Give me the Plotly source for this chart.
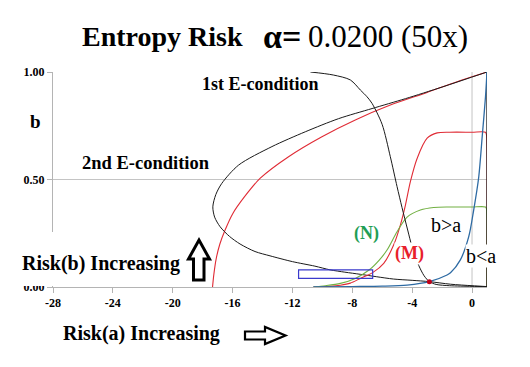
import plotly.graph_objects as go

# ---------------- data ----------------
x_ticks = [-28, -24, -20, -16, -12, -8, -4, 0]
y_ticks = [0.0, 0.5, 1.0]
y_tick_text = ["0.00", "0.50", "1.00"]

# 2nd E-condition (black loop)
loop2_x = [1.0, -2.0, -4.45, -6.68, -8.92, -11.14, -13.37, -15.6, -16.72, -17.12, -17.32,
           -17.2, -16.83, -16.2, -15.5, -14.5, -13.5, -12.0, -10.5, -9.5, -8.5, -7.46, -6.4,
           -5.24, -4.0, -2.85, -1.44, 0.0, 1.0]
loop2_y = [1.0, 0.93, 0.876, 0.83, 0.783, 0.722, 0.653, 0.567, 0.482, 0.43, 0.373,
           0.325, 0.28, 0.235, 0.2, 0.165, 0.145, 0.118, 0.097, 0.08, 0.069, 0.059, 0.048,
           0.037, 0.031, 0.025, 0.013, 0.006, 0.002]
edge_x = [1.0, 1.0]
edge_y = [0.0, 1.0]

# 2nd E-condition (red)
red2_x = [-17.34, -17.25, -17.1, -16.85, -16.5, -16.0, -15.2, -14.15, -12.26, -10.03, -7.8,
          -5.5, -3.0, -1.0, 1.0]
red2_y = [0.0, 0.06, 0.13, 0.2, 0.265, 0.34, 0.42, 0.506, 0.606, 0.699, 0.777,
          0.845, 0.905, 0.955, 1.0]

# 1st E-condition (black S-curve)
e1_x = [-10.8, -9.27, -8.13, -7.46, -7.02, -6.68, -6.01, -5.46, -5.01, -4.68, -4.3, -4.0,
        -3.56, -3.2, -2.85, -2.4, -1.5, 0.0, 1.0]
e1_y = [1.0, 0.986, 0.963, 0.916, 0.885, 0.854, 0.757, 0.606, 0.467, 0.37, 0.265, 0.185,
        0.1, 0.052, 0.025, 0.012, 0.006, 0.003, 0.002]

# (M) red curve
m_x = [-10.6, -9.5, -8.8, -8.13, -7.46, -6.64, -5.9, -5.24, -4.79, -4.45, -4.12, -3.67,
       -3.0, -2.33, -1.5, 0.0, 0.9, 0.97, 1.0, 1.0]
m_y = [0.0, 0.003, 0.008, 0.018, 0.04, 0.067, 0.11, 0.195, 0.288, 0.381, 0.49, 0.598,
       0.692, 0.717, 0.72, 0.72, 0.72, 0.705, 0.66, 0.0]

# (N) green curve
n_x = [-10.6, -9.8, -8.8, -7.8, -6.86, -6.2, -5.68, -5.01, -4.34, -3.45, -2.56, -1.5, 0.0,
       0.9, 0.97, 1.0, 1.0]
n_y = [0.0, 0.006, 0.017, 0.04, 0.08, 0.125, 0.172, 0.257, 0.325, 0.358, 0.37, 0.372, 0.372,
       0.372, 0.362, 0.33, 0.0]

# blue curve
blue_x = [-10.6, -8.0, -6.0, -4.34, -2.85, -1.67, -1.44, -0.78, -0.22, 0.11, 0.45, 0.68, 0.9, 1.0]
blue_y = [0.0, 0.002, 0.004, 0.009, 0.025, 0.056, 0.066, 0.126, 0.234, 0.358, 0.513, 0.70, 0.885, 1.0]

# equilibrium point
eq_x = [-2.85]
eq_y = [0.025]

# highlighted box
box_x = [-11.59, -6.64]
box_y = [0.04, 0.08]

# ---------------- figure ----------------
W, H = 530, 367
L, R, T, B = 53, 43, 72, 80
PW, PH = W - L - R, H - T - B


def px(xp):
    return (xp - L) / PW


def py(yp):
    return (T + PH - yp) / PH


BLACK = "#1a1a1a"
RED = "#e02b35"
GREEN = "#72b043"
BLUE = "#2d6aa3"
SERIF = "Liberation Serif, Times New Roman, serif"

fig = go.Figure()


def line(x, y, color, width=1.0):
    fig.add_trace(go.Scatter(x=x, y=y, mode="lines", line=dict(color=color, width=width,
                                                                shape="spline", smoothing=0.8),
                             cliponaxis=False, hoverinfo="skip", showlegend=False))


line(red2_x, red2_y, RED, 1.1)
line(loop2_x, loop2_y, BLACK, 1.0)
line(m_x, m_y, RED, 1.1)
line(n_x, n_y, GREEN, 1.1)
line(e1_x, e1_y, BLACK, 1.0)
fig.add_trace(go.Scatter(x=edge_x, y=edge_y, mode="lines", line=dict(color=BLACK, width=1.3),
                         cliponaxis=False, hoverinfo="skip", showlegend=False))
line(blue_x, blue_y, BLUE, 1.3)
fig.add_trace(go.Scatter(x=eq_x, y=eq_y, mode="markers",
                         marker=dict(color="#c00018", size=5),
                         cliponaxis=False, hoverinfo="skip", showlegend=False))

shapes = []
# vertical gridline at x = 0
shapes.append(dict(type="line", xref="x", yref="y", x0=0, x1=0, y0=0, y1=1,
                   line=dict(color="#c4c4c4", width=1), layer="below"))
# blue box
shapes.append(dict(type="rect", xref="x", yref="y", x0=box_x[0], x1=box_x[1],
                   y0=box_y[0], y1=box_y[1], line=dict(color="#3a3acc", width=1.2),
                   fillcolor="rgba(0,0,0,0)"))
# white background behind "Risk(b) Increasing"
shapes.append(dict(type="rect", xref="paper", yref="paper", x0=px(14), x1=px(211),
                   y0=py(286), y1=py(232), line=dict(width=0), fillcolor="white",
                   layer="above"))


def path(points):
    s = "M " + " L ".join(f"{px(a):.5f},{py(b):.5f}" for a, b in points) + " Z"
    return s


# hollow up arrow
up_arrow = [(193.5, 280), (193.5, 259), (188.5, 259), (199, 240), (209.5, 259),
            (204, 259), (204, 280)]
shapes.append(dict(type="path", xref="paper", yref="paper", path=path(up_arrow),
                   line=dict(color="black", width=3), fillcolor="white", layer="above"))
# hollow right arrow
right_arrow = [(245, 331.5), (265, 331.5), (265, 327), (285.5, 335.5), (265, 344),
               (265, 339.5), (245, 339.5)]
shapes.append(dict(type="path", xref="paper", yref="paper", path=path(right_arrow),
                   line=dict(color="black", width=2.2), fillcolor="white", layer="above"))

annotations = []


def text(t, xp, yp, size, color="black", xanchor="center", bg=None, family=SERIF):
    a = dict(text=t, xref="paper", yref="paper", x=px(xp), y=py(yp), xanchor=xanchor,
             yanchor="middle", showarrow=False, font=dict(family=family, size=size, color=color),
             borderpad=0)
    if bg:
        a["bgcolor"] = bg
    annotations.append(a)


text("<b>Entropy Risk</b>", 81, 37, 28, xanchor="left")
text("<b>α=</b>", 262, 37, 34, xanchor="left")
text("0.0200 (50x)", 307, 37, 31, xanchor="left")
text("<b>1st E-condition</b>", 201, 84, 18, xanchor="left")
text("<b>b</b>", 35, 121, 19)
text("<b>2nd E-condition</b>", 81, 163, 18.5, xanchor="left")
text("<b>Risk(b) Increasing</b>", 21, 263, 20, xanchor="left")
text("<b>Risk(a) Increasing</b>", 62, 333, 20, xanchor="left")
text("<b>(N)</b>", 366, 233, 18, color="#1f9e55")
text("<b>(M)</b>", 409, 253, 18, color="#e8202a", bg="white")
text("b>a", 446, 225, 20)
text("b<a", 481, 256, 20, bg="white")

fig.update_layout(
    width=W, height=H,
    margin=dict(l=L, r=R, t=T, b=B, pad=0),
    paper_bgcolor="white", plot_bgcolor="white",
    showlegend=False,
    shapes=shapes,
    annotations=annotations,
    xaxis=dict(range=[-28, 1], tickvals=x_ticks, ticktext=[f"<b>{v}</b>" for v in x_ticks],
               showgrid=False, zeroline=False, showline=True, linecolor="#b4b4b4", linewidth=1,
               ticks="outside", ticklen=5, tickcolor="#b4b4b4",
               tickfont=dict(family=SERIF, size=12, color="black")),
    yaxis=dict(range=[0, 1], tickvals=y_ticks, ticktext=[f"<b>{t}</b>" for t in y_tick_text],
               showgrid=True, gridcolor="#c4c4c4", gridwidth=1, zeroline=False,
               showline=True, linecolor="#b4b4b4", linewidth=1,
               ticks="outside", ticklen=5, tickcolor="#b4b4b4",
               tickfont=dict(family=SERIF, size=12, color="black")),
)

fig.write_html("out.html", config={"displayModeBar": False},
               post_script="document.body.style.margin='0';")
